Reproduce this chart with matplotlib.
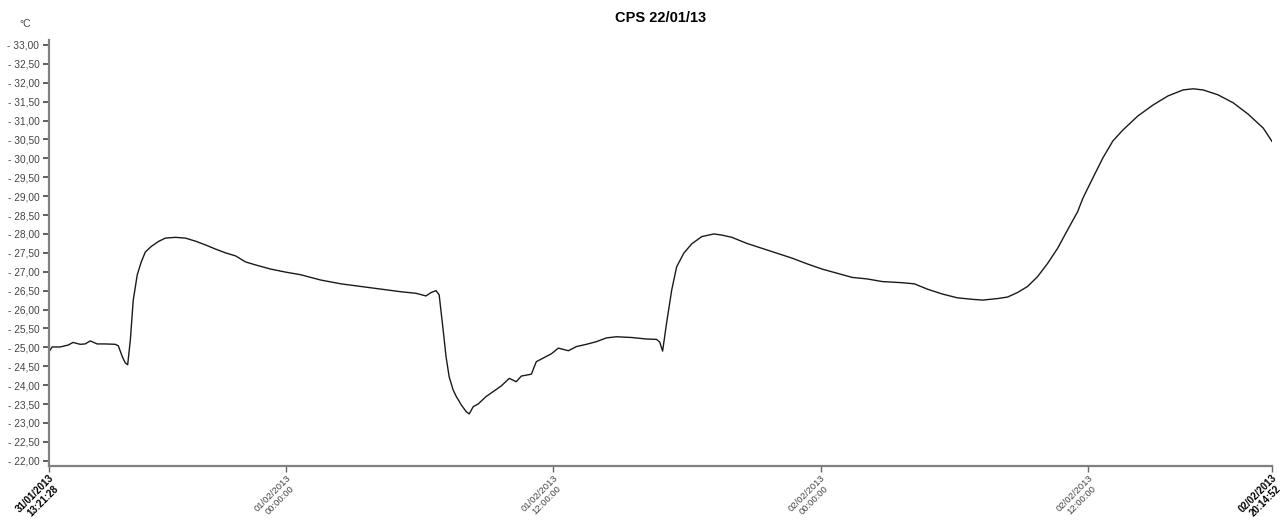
import datetime as dt
import matplotlib
matplotlib.use("Agg")
import matplotlib.pyplot as plt
import matplotlib.dates as mdates

plt.rcParams['font.family'] = ['Liberation Sans', 'DejaVu Sans']

start = dt.datetime(2013, 1, 31, 13, 21, 28)
end = dt.datetime(2013, 2, 2, 20, 14, 52)

# hours since start, temperature in °C
hours = [0.00, 0.14, 0.50, 0.86, 1.08, 1.40, 1.62, 1.85, 2.16, 2.52, 2.97, 3.11,
         3.29, 3.42, 3.53, 3.65, 3.78, 3.96, 4.14, 4.32, 4.59, 4.91, 5.22, 5.67,
         6.12, 6.57, 7.02, 7.47, 7.92, 8.37, 8.82, 9.27, 9.95, 10.62, 11.30, 12.20,
         13.10, 14.00, 14.90, 15.80, 16.47, 16.92, 17.15, 17.37, 17.51, 17.69, 17.82,
         17.96, 18.14, 18.27, 18.50, 18.72, 18.86, 19.04, 19.26, 19.62, 19.94, 20.30,
         20.66, 20.97, 21.20, 21.65, 21.87, 22.10, 22.55, 22.86, 23.31, 23.67, 24.12,
         24.57, 25.02, 25.47, 26.15, 26.82, 27.27, 27.41, 27.54, 27.72, 27.95, 28.17,
         28.49, 28.85, 29.30, 29.84, 30.20, 30.65, 31.32, 32.00, 32.67, 33.35, 34.02,
         34.70, 35.37, 36.05, 36.72, 37.40, 38.30, 38.84, 39.42, 40.10, 40.77, 41.45,
         41.90, 42.57, 43.02, 43.47, 43.92, 44.37, 44.82, 45.27, 45.72, 46.17, 46.40,
         46.85, 47.30, 47.75, 48.20, 48.87, 49.55, 50.22, 50.90, 51.35, 51.80, 52.47,
         53.15, 53.82, 54.50, 54.89]
temps = [24.89, 25.01, 25.01, 25.06, 25.13, 25.08, 25.09, 25.17, 25.09, 25.09, 25.08, 25.04,
         24.75, 24.59, 24.54, 25.20, 26.25, 26.92, 27.26, 27.52, 27.67, 27.80, 27.89, 27.91,
         27.89, 27.81, 27.71, 27.60, 27.50, 27.42, 27.26, 27.18, 27.07, 26.99, 26.92, 26.78,
         26.68, 26.61, 26.54, 26.47, 26.43, 26.36, 26.45, 26.50, 26.39, 25.46, 24.75,
         24.22, 23.87, 23.71, 23.48, 23.30, 23.24, 23.43, 23.50, 23.70, 23.83, 23.98,
         24.18, 24.09, 24.24, 24.29, 24.62, 24.69, 24.83, 24.98, 24.91, 25.02, 25.08,
         25.15, 25.25, 25.28, 25.26, 25.22, 25.21, 25.14, 24.90, 25.65, 26.52, 27.13,
         27.49, 27.74, 27.93, 28.00, 27.97, 27.91, 27.75, 27.62, 27.49, 27.36, 27.21,
         27.07, 26.96, 26.85, 26.81, 26.74, 26.71, 26.68, 26.54, 26.41, 26.31, 26.27,
         26.25, 26.29, 26.33, 26.45, 26.61, 26.87, 27.22, 27.62, 28.11, 28.59, 28.94,
         29.48, 30.01, 30.46, 30.75, 31.12, 31.41, 31.65, 31.81, 31.84, 31.81, 31.68,
         31.47, 31.17, 30.80, 30.45]

tick_times = [start,
              dt.datetime(2013, 2, 1, 0, 0, 0),
              dt.datetime(2013, 2, 1, 12, 0, 0),
              dt.datetime(2013, 2, 2, 0, 0, 0),
              dt.datetime(2013, 2, 2, 12, 0, 0),
              end]
y_ticks = [22 + 0.5 * k for k in range(23)]

times = [start + dt.timedelta(hours=h) for h in hours]

fig = plt.figure(figsize=(12.87, 5.2), dpi=100)
ax = fig.add_axes([0.0381, 0.1038, 0.9502, 0.8192])

ax.plot(times, temps, color='#1a1a1a', lw=1.0)

ax.set_xlim(start, end)
ax.set_ylim(21.86, 33.13)

ax.set_yticks(y_ticks)
ax.set_yticklabels([("- %.2f" % v).replace('.', ',') for v in y_ticks])
ax.set_xticks([mdates.date2num(t) for t in tick_times])
ax.set_xticklabels([t.strftime("%d/%m/%Y\n%H:%M:%S") for t in tick_times],
                   rotation=45, ha='right', va='top', rotation_mode='anchor',
                   multialignment='center', linespacing=1.1)

ax.tick_params(axis='y', labelsize=7.3, labelcolor='#444444', length=4, width=1.2,
               color='#444444', pad=3)
ax.tick_params(axis='x', labelsize=6.8, labelcolor='#444444', length=4, width=1,
               color='#666666', pad=1)
labels = ax.get_xticklabels()
for lab in (labels[0], labels[-1]):
    lab.set_fontweight('bold')
    lab.set_color('black')
    lab.set_fontsize(7)

for s in ('top', 'right'):
    ax.spines[s].set_visible(False)
for s in ('left', 'bottom'):
    ax.spines[s].set_color('#808080')
    ax.spines[s].set_linewidth(1.6)

fig.text(0.513, 0.965, "CPS 22/01/13", ha='center', va='center',
         fontsize=10.5, fontweight='bold')
fig.text(0.0195, 0.953, "°C", ha='center', va='center', fontsize=7.5, color='#444444')

fig.savefig("out.png", dpi=100)
